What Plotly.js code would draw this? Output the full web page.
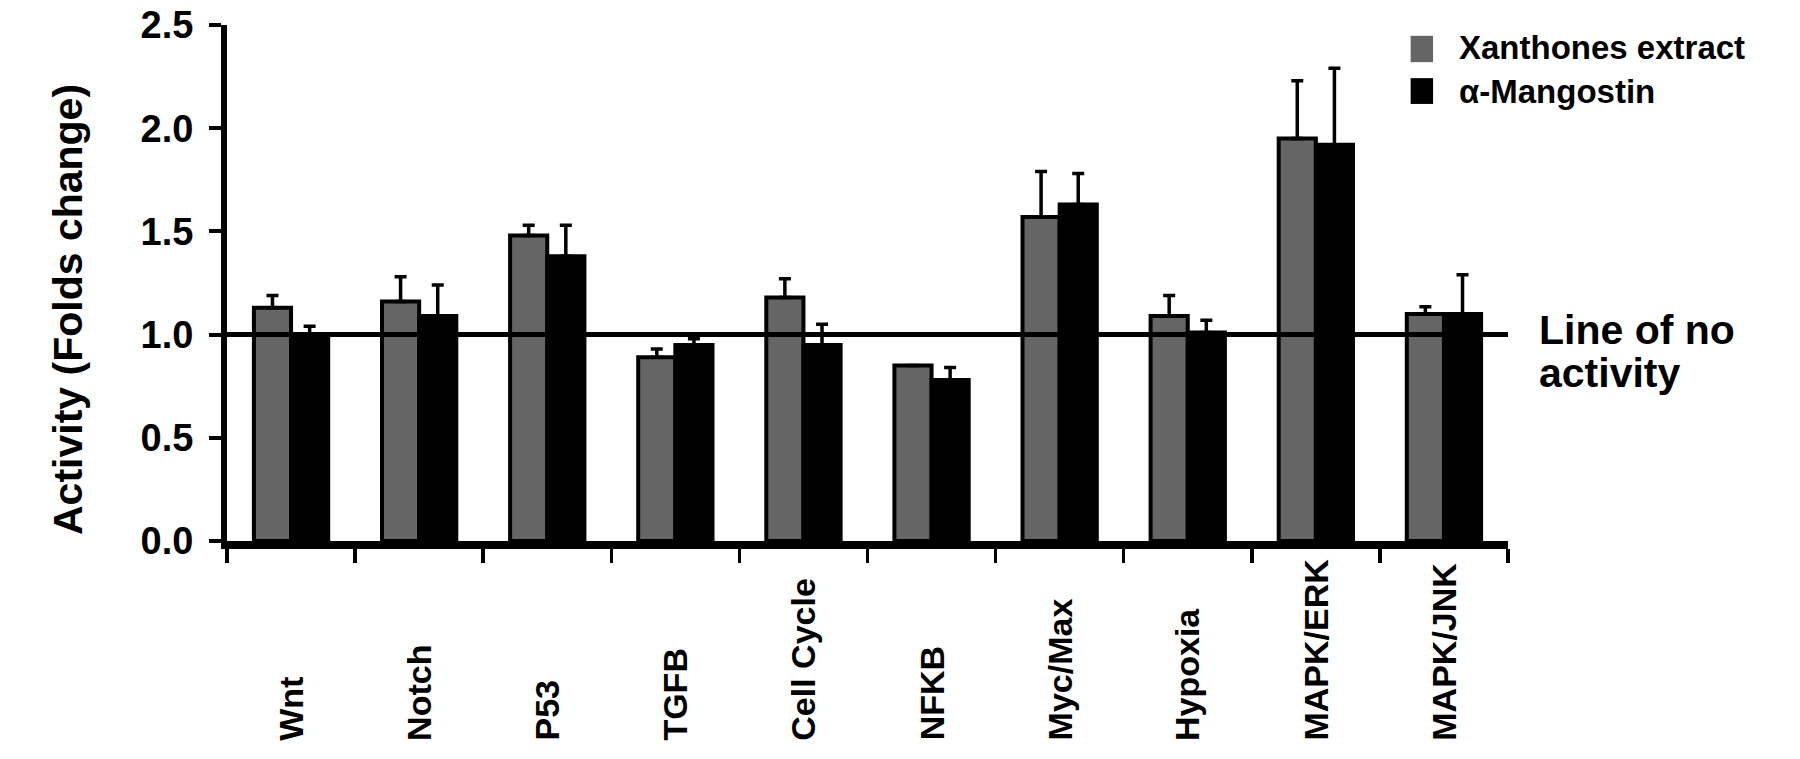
<!DOCTYPE html>
<html>
<head>
<meta charset="utf-8">
<script src="https://cdn.plot.ly/plotly-3.0.1.min.js"></script>
<style>
  html, body { margin: 0; padding: 0; background: #fff; }
  #chart { width: 1800px; height: 759px; }
</style>
</head>
<body>
<div id="chart"></div>
<script>
// categorias (vias de sinalização)
const categories = ['Wnt', 'Notch', 'P53', 'TGFB', 'Cell Cycle', 'NFKB', 'Myc/Max', 'Hypoxia', 'MAPK/ERK', 'MAPK/JNK'];

// nomes das séries
const seriesNames = ['Xanthones extract', 'α-Mangostin'];

// valores
const xanthonesValues = [1.13, 1.16, 1.48, 0.89, 1.18, 0.85, 1.57, 1.09, 1.95, 1.10];
const xanthonesErr = [0.06, 0.12, 0.05, 0.04, 0.09, 0.0, 0.22, 0.10, 0.28, 0.035];
const mangostinValues = [1.00, 1.09, 1.38, 0.95, 0.95, 0.78, 1.63, 1.01, 1.92, 1.10];
const mangostinErr = [0.04, 0.15, 0.15, 0.03, 0.10, 0.06, 0.15, 0.06, 0.37, 0.19];

// eixo y
const yTicks = [0, 0.5, 1.0, 1.5, 2.0, 2.5];
const noActivityLevel = 1.0;

const BOLD = 'Liberation Sans, Arial, sans-serif';

function zeros(n) { return new Array(n).fill(0); }

function gerarGrafico() {
  const data = [
    {
      type: 'bar',
      x: categories,
      y: xanthonesValues,
      name: seriesNames[0],
      marker: { color: '#656565', line: { color: '#000', width: 4 } },
      error_y: {
        type: 'data', symmetric: false,
        array: xanthonesErr, arrayminus: zeros(categories.length),
        color: '#000', thickness: 3.5, width: 6
      },
      showlegend: false
    },
    {
      type: 'bar',
      x: categories,
      y: mangostinValues,
      name: seriesNames[1],
      marker: { color: '#000', line: { color: '#000', width: 4 } },
      error_y: {
        type: 'data', symmetric: false,
        array: mangostinErr, arrayminus: zeros(categories.length),
        color: '#000', thickness: 3.5, width: 6
      },
      showlegend: false
    }
  ];

  // rótulos do eixo x, alinhados pela base como no original
  const annotations = categories.map(c => ({
    x: c, xref: 'x',
    y: -0.391, yref: 'paper',
    yanchor: 'bottom', xanchor: 'center',
    textangle: -90,
    showarrow: false,
    text: c,
    font: { family: BOLD, size: 34, weight: 'bold', color: '#000' }
  }));

  // título do eixo y
  annotations.push({
    x: -0.124, xref: 'paper', y: 0.448, yref: 'paper',
    xanchor: 'center', yanchor: 'middle', textangle: -90,
    showarrow: false, text: 'Activity (Folds change)',
    font: { family: BOLD, size: 41, weight: 'bold', color: '#000' }
  });

  // legenda manual
  const legendRows = [
    { name: seriesNames[0], color: '#656565', y0: 0.928, y1: 0.979, ty: 0.957 },
    { name: seriesNames[1], color: '#000', y0: 0.847, y1: 0.897, ty: 0.871 }
  ];
  const shapes = [];
  legendRows.forEach(r => {
    shapes.push({
      type: 'rect', xref: 'paper', yref: 'paper',
      x0: 0.924, x1: 0.9415, y0: r.y0, y1: r.y1,
      fillcolor: r.color, line: { width: 0 }
    });
    annotations.push({
      x: 0.960, xref: 'paper', y: r.ty, yref: 'paper',
      xanchor: 'left', yanchor: 'middle', showarrow: false,
      text: r.name,
      font: { family: BOLD, size: 33, weight: 'bold', color: '#000' }
    });
  });

  // linha de "nenhuma atividade"
  shapes.push({
    type: 'line', xref: 'paper', yref: 'y', layer: 'above',
    x0: 0, x1: 1, y0: noActivityLevel, y1: noActivityLevel,
    line: { color: '#000', width: 5 }
  });
  annotations.push({
    x: 1.0226, xref: 'paper', y: 0.409, yref: 'paper',
    xanchor: 'left', yanchor: 'middle', showarrow: false,
    text: 'Line of no',
    font: { family: BOLD, size: 41, weight: 'bold', color: '#000' }
  });
  annotations.push({
    x: 1.0226, xref: 'paper', y: 0.326, yref: 'paper',
    xanchor: 'left', yanchor: 'middle', showarrow: false,
    text: 'activity',
    font: { family: BOLD, size: 41, weight: 'bold', color: '#000' }
  });

  const layout = {
    width: 1800,
    height: 759,
    paper_bgcolor: '#fff',
    plot_bgcolor: '#fff',
    margin: { l: 227, r: 292, t: 25, b: 218 },
    showlegend: false,
    barmode: 'group',
    bargap: 0.42,
    bargroupgap: 0,
    xaxis: {
      type: 'category',
      range: [-0.5, categories.length - 0.5],
      showticklabels: false,
      ticks: 'outside',
      tickson: 'boundaries',
      ticklen: 14,
      tickwidth: 3.5,
      tickcolor: '#000',
      showline: true,
      linecolor: '#000',
      linewidth: 8,
      showgrid: false,
      zeroline: false
    },
    yaxis: {
      range: [0, 2.5],
      tickvals: yTicks,
      tickformat: '.1f',
      ticks: 'outside',
      ticklen: 12,
      tickwidth: 4,
      tickcolor: '#000',
      ticklabelstandoff: 8,
      tickfont: { family: BOLD, size: 38, weight: 'bold', color: '#000' },
      showline: true,
      linecolor: '#000',
      linewidth: 6,
      showgrid: false,
      zeroline: false
    },
    shapes: shapes,
    annotations: annotations
  };

  Plotly.newPlot('chart', data, layout, { displayModeBar: false, staticPlot: true });
}

document.addEventListener('DOMContentLoaded', gerarGrafico);
</script>
</body>
</html>
